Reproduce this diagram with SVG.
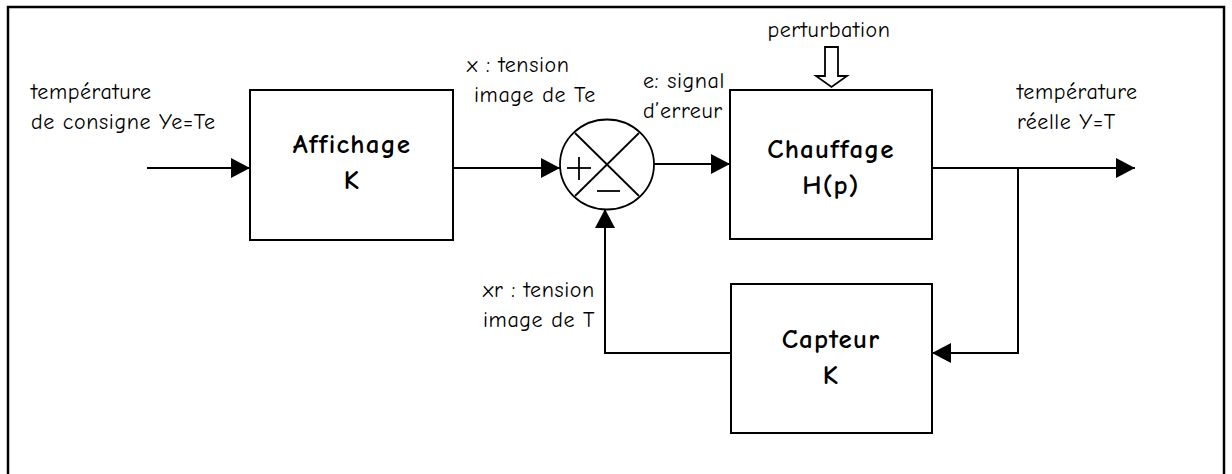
<svg xmlns="http://www.w3.org/2000/svg" width="1232" height="474" viewBox="0 0 1232 474">
  <style>
    .frame { fill: none; stroke: #000; stroke-width: 2.5; }
    .box { fill: #fff; stroke: #000; stroke-width: 2; }
    .wire { fill: none; stroke: #000; stroke-width: 2; }
    .thin { fill: none; stroke: #000; stroke-width: 1.8; }
    .lbl { font-family: "Comic Sans MS", "Comic Neue", "Noto Sans", sans-serif; font-size: 22px; letter-spacing: 0.6px; fill: #000; }
    .title { font-family: "Comic Sans MS", "Comic Neue", "Noto Sans", sans-serif; font-size: 27px; letter-spacing: 1.2px; font-weight: bold; fill: #000; text-anchor: middle; }
  </style>
  <defs>
    <marker id="arrow" viewBox="0 0 19 20" refX="19" refY="10" markerWidth="19" markerHeight="20" markerUnits="userSpaceOnUse" orient="auto">
      <path d="M0,0 L19,10 L0,20 Z" fill="#000"/>
    </marker>
  </defs>

  <rect width="1232" height="474" fill="#fff"/>
  <!-- outer frame, open at the bottom edge -->
  <path class="frame" d="M8,474 L8,7 L1224,7 L1224,474"/>

  <g id="affichage">
    <rect class="box" x="250" y="90" width="203" height="150"/>
    <text class="title" x="352" y="153">Affichage</text>
    <text class="title" x="352" y="189">K</text>
  </g>

  <g id="comparateur">
    <ellipse class="thin" cx="607" cy="164.5" rx="47" ry="45"/>
    <line class="thin" x1="575" y1="133" x2="639" y2="196"/>
    <line class="thin" x1="639" y1="133" x2="575" y2="196"/>
    <line class="thin" x1="567" y1="168" x2="591" y2="168"/>
    <line class="thin" x1="579" y1="157" x2="579" y2="180"/>
    <line class="thin" x1="597" y1="191" x2="620" y2="191"/>
  </g>

  <g id="chauffage">
    <rect class="box" x="730" y="90" width="202" height="149"/>
    <text class="title" x="831" y="158">Chauffage</text>
    <text class="title" x="831" y="194">H(p)</text>
  </g>

  <g id="capteur">
    <rect class="box" x="731" y="284" width="201" height="149"/>
    <text class="title" x="831" y="348">Capteur</text>
    <text class="title" x="831" y="384">K</text>
  </g>

  <g id="perturbation">
    <text class="lbl" x="829" y="37" text-anchor="middle">perturbation</text>
    <path class="thin" d="M825,47 L838,47 L838,76 L847,76 L831.5,87 L816,76 L825,76 Z" stroke-width="1.5"/>
  </g>

  <g id="connecteurs">
    <line class="wire" x1="147" y1="168" x2="250" y2="168" marker-end="url(#arrow)"/>
    <line class="wire" x1="453" y1="168" x2="560" y2="168" marker-end="url(#arrow)"/>
    <line class="wire" x1="654" y1="164" x2="730" y2="164" marker-end="url(#arrow)"/>
    <line class="wire" x1="932" y1="168" x2="1135" y2="168" marker-end="url(#arrow)"/>
    <polyline class="wire" points="1018,168 1018,353 932,353" marker-end="url(#arrow)"/>
    <polyline class="wire" points="731,353 605,353 605,209" marker-end="url(#arrow)"/>
  </g>

  <g id="etiquettes">
    <text class="lbl" x="31" y="99">température</text>
    <text class="lbl" x="31" y="129">de consigne Ye=Te</text>
    <text class="lbl" x="467" y="72">x : tension</text>
    <text class="lbl" x="474" y="102">image de Te</text>
    <text class="lbl" x="643" y="88">e: signal</text>
    <text class="lbl" x="643" y="118">d’erreur</text>
    <text class="lbl" x="1017" y="99">température</text>
    <text class="lbl" x="1017" y="129">réelle Y=T</text>
    <text class="lbl" x="483" y="297">xr : tension</text>
    <text class="lbl" x="483" y="327">image de T</text>
  </g>
</svg>
